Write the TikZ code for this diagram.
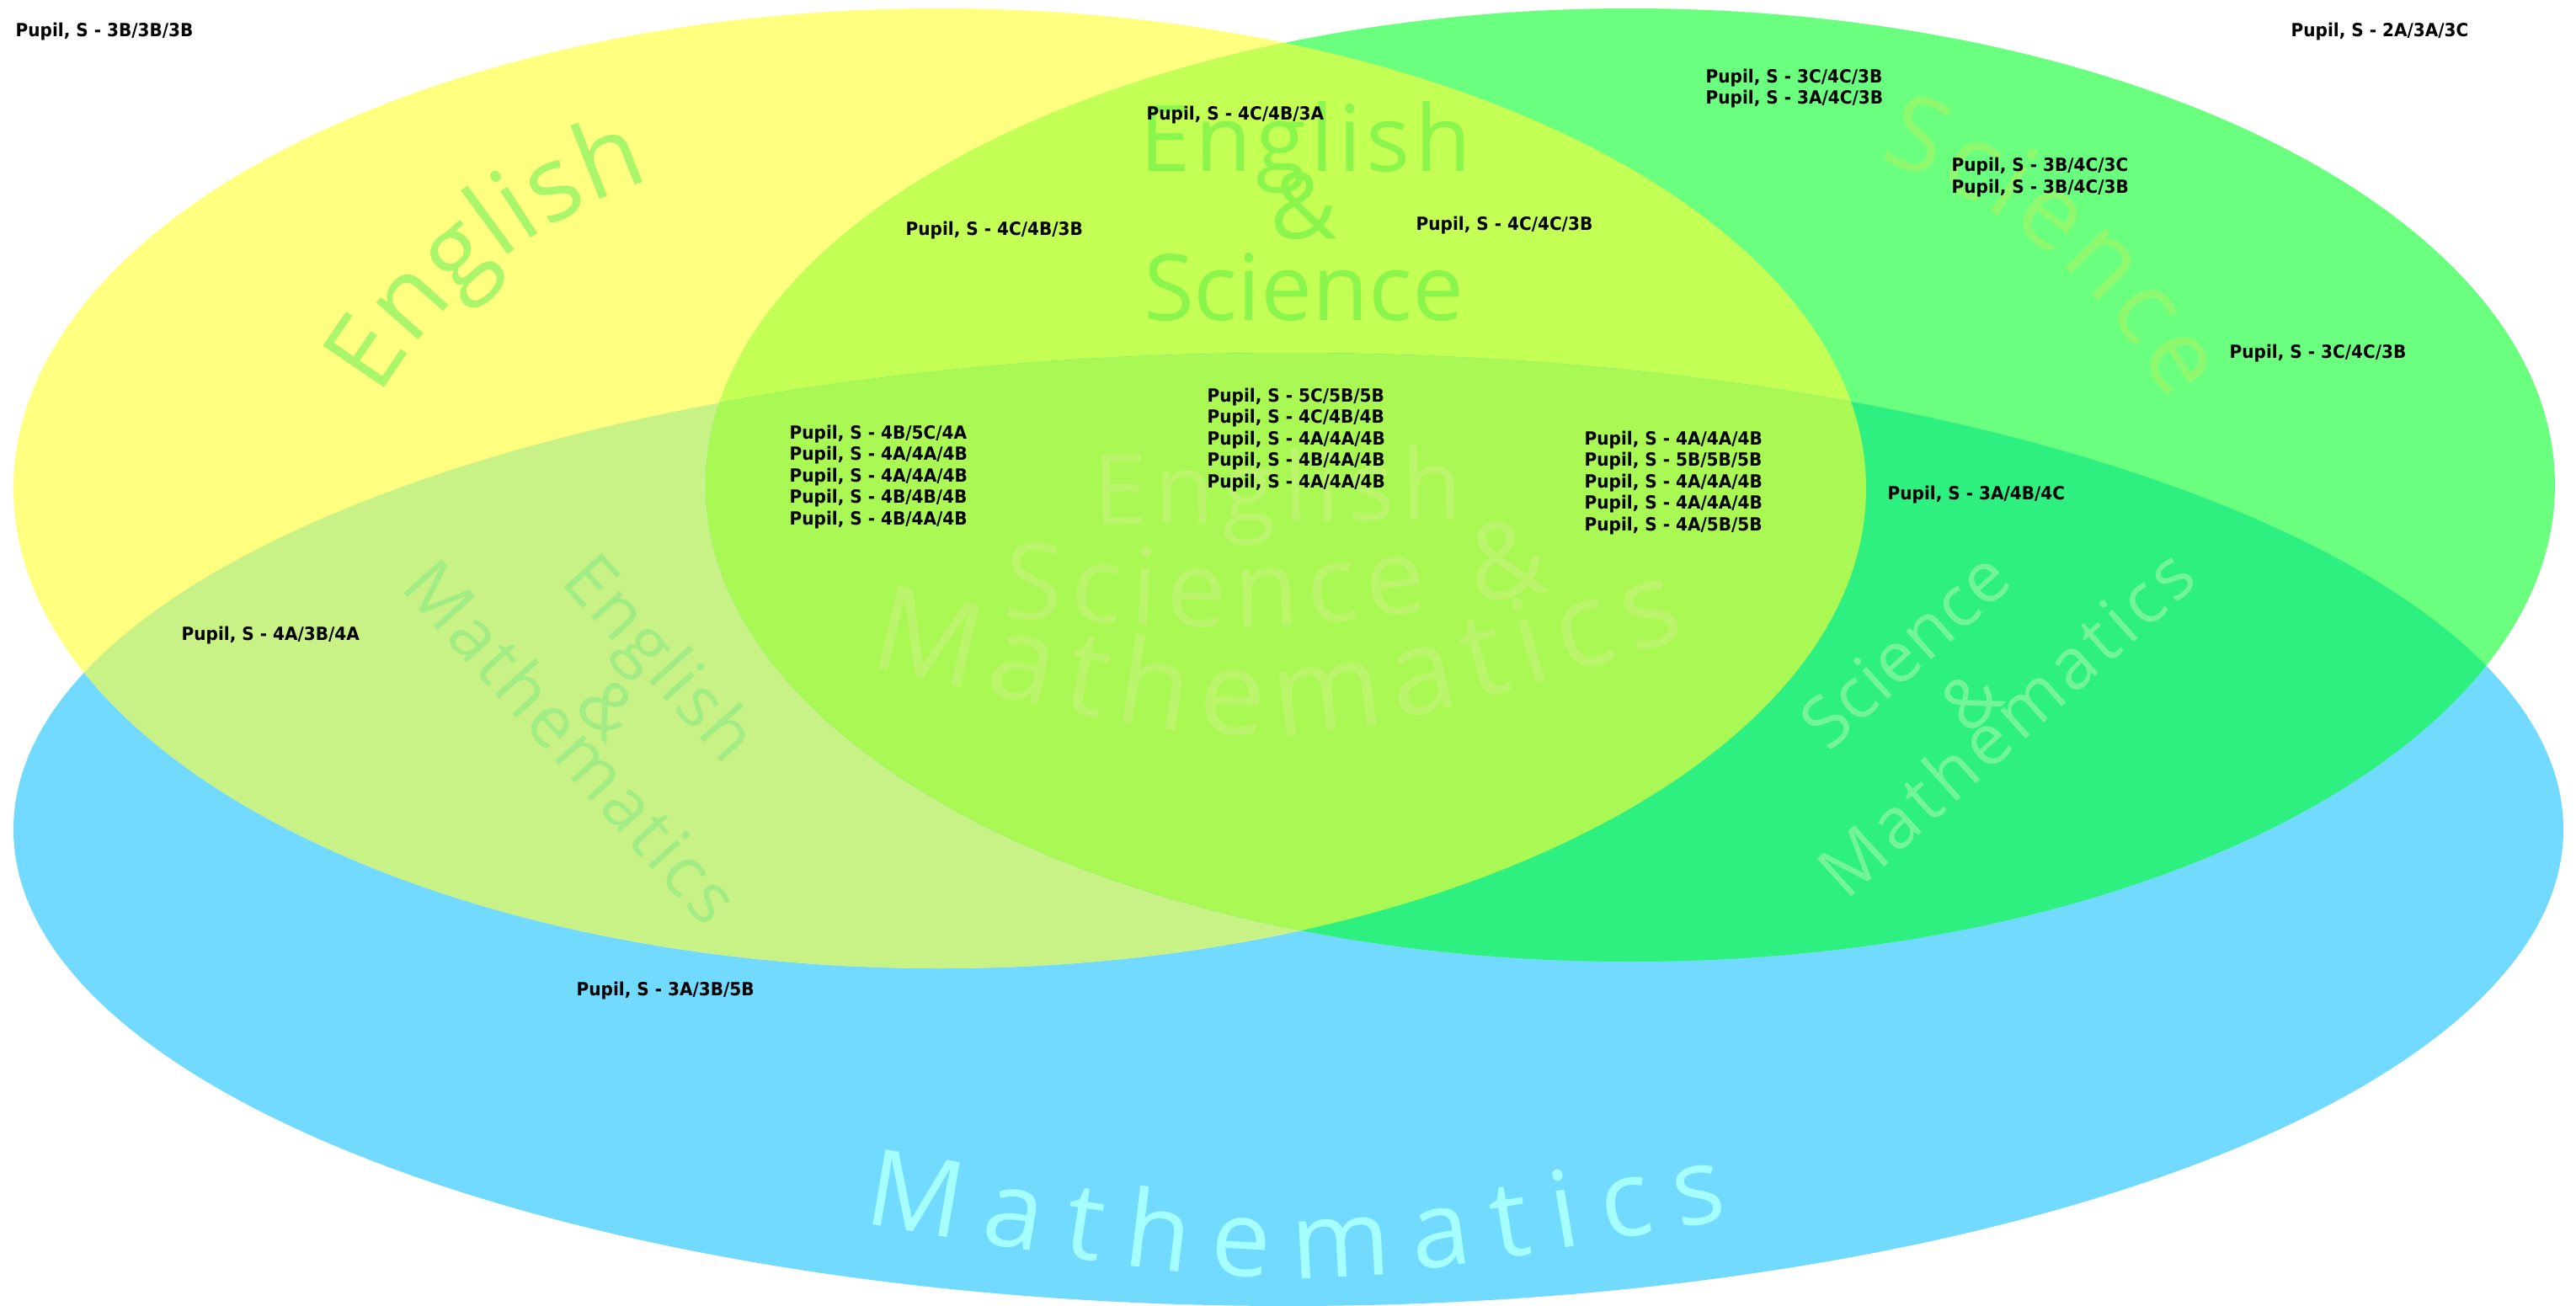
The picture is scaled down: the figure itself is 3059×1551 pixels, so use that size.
\documentclass[tikz,border=0pt]{standalone}
\usepackage{fontspec}
\usetikzlibrary{decorations.text}
\newfontfamily\pupilfont{DejaVu Sans}[FakeStretch=0.93]
\newfontfamily\markfont{Open Sans}
\definecolor{engyellow}{HTML}{FFFF80}
\definecolor{scigreen}{HTML}{6BFF80}
\definecolor{mathblue}{HTML}{73DAFF}
\definecolor{engsci}{HTML}{C4FF55}
\definecolor{engmath}{HTML}{C8F286}
\definecolor{scimath}{HTML}{2EF080}
\definecolor{allthree}{HTML}{A9F854}
\definecolor{engtext}{HTML}{AAF66A}
\definecolor{scitext}{HTML}{8EF86E}
\definecolor{estext}{HTML}{8AF64C}
\definecolor{alltext}{HTML}{BAF56B}
\definecolor{emtext}{HTML}{A2EC84}
\definecolor{smtext}{HTML}{74F49A}
\definecolor{mathtext}{HTML}{A6FFFF}
\newcommand{\wfont}[1]{\markfont\fontsize{#1}{#1}\selectfont}
\tikzset{
  pupil/.style={anchor=base west, inner sep=0pt, font=\pupilfont\bfseries\fontsize{6.13}{7.3}\selectfont},
  wtext/.style={decorate, decoration={text along path, text align={fit to path}, text color=#1}},
  wamp/.style={inner sep=0pt, anchor=base, text=#1}
}
\begin{document}
\begin{tikzpicture}[x=0.01cm, y=-0.01cm]
        \useasboundingbox (0,0) rectangle (3059,1551);
        \fill[white] (0,0) rectangle (3059,1551);
        % the three sets
        \coordinate (E) at (1116,580);
        \coordinate (S) at (1936,576);
        \coordinate (M) at (1530,985);
        \fill[mathblue] (M) ellipse [x radius=1514, y radius=566];
        \fill[engyellow] (E) ellipse [x radius=1100, y radius=570];
        \fill[scigreen] (S) ellipse [x radius=1098, y radius=566];
        % overlaps
        \begin{scope}
          \clip (E) ellipse [x radius=1100, y radius=570];
          \fill[engsci] (S) ellipse [x radius=1098, y radius=566];
          \fill[engmath] (M) ellipse [x radius=1514, y radius=566];
        \end{scope}
        \begin{scope}
          \clip (S) ellipse [x radius=1098, y radius=566];
          \fill[scimath] (M) ellipse [x radius=1514, y radius=566];
        \end{scope}
        \begin{scope}
          \clip (E) ellipse [x radius=1100, y radius=570];
          \clip (S) ellipse [x radius=1098, y radius=566];
          \fill[allthree] (M) ellipse [x radius=1514, y radius=566];
        \end{scope}
        % region names
        \path[wtext=engtext, decoration={text={|\wfont{35}|English}}]
          (956,775) ++(211:590) arc [start angle=211, end angle=252, radius=590];
        \path[wtext=scitext, decoration={text={|\wfont{35}|Science}}]
          (2046,760) ++(288:600) arc [start angle=288, end angle=332, radius=600];
        \path[wtext=estext, decoration={text={|\wfont{31}|English}}] (1353,203) -- (1747,203);
        \node[wamp=estext, font=\wfont{31}] (esamp) at (1548,283) {\&};
        \path[wtext=estext, decoration={text={|\wfont{31}|Science}}] (1358,380) -- (1737,380);
        \path[wtext=alltext, decoration={text={|\wfont{33}|English}}] (1298,623) -- (1737,617);
        \path[wtext=alltext, decoration={text={|\wfont{36}|Science {\&}}}]
          (1190,733) .. controls (1516,752) .. (1842,703);
        \path[wtext=alltext, decoration={text={|\wfont{40}|Mathematics}}]
          (1030,790) .. controls (1515,906) .. (2003,757);
        \path[wtext=emtext, decoration={text={|\wfont{24}|English}}] (664,691) -- (862,911);
        \node[wamp=emtext, font=\wfont{24}, rotate=-48] (emamp) at (700,862) {\&};
        \path[wtext=emtext, decoration={text={|\wfont{24}|Mathematics}}] (474,698) -- (838,1103);
        \path[wtext=smtext, decoration={text={|\wfont{24}|Science}}] (2171,894) -- (2393,694);
        \node[wamp=smtext, font=\wfont{24}, rotate=42] (smamp) at (2360,854) {\&};
        \path[wtext=smtext, decoration={text={|\wfont{24}|Mathematics}}] (2192,1070) -- (2612,692);
        \path[wtext=mathtext, decoration={text={|\wfont{36}|Mathematics}}]
          (1024,1452) .. controls (1538,1540) .. (2053,1448);
        % pupils
        \node[pupil] (p1) at (18,43) {Pupil, S - 3B/3B/3B};
        \node[pupil] (p2) at (2720,43) {Pupil, S - 2A/3A/3C};
        \node[pupil] (p3) at (1361,142) {Pupil, S - 4C/4B/3A};
        \node[pupil] (p4) at (2025,98) {Pupil, S - 3C/4C/3B};
        \node[pupil] (p5) at (2025,123) {Pupil, S - 3A/4C/3B};
        \node[pupil] (p6) at (2317,203) {Pupil, S - 3B/4C/3C};
        \node[pupil] (p7) at (2317,229) {Pupil, S - 3B/4C/3B};
        \node[pupil] (p8) at (1075,279) {Pupil, S - 4C/4B/3B};
        \node[pupil] (p9) at (1681,273) {Pupil, S - 4C/4C/3B};
        \node[pupil] (p10) at (2647,425) {Pupil, S - 3C/4C/3B};
        \node[pupil] (p11) at (2241,593) {Pupil, S - 3A/4B/4C};
        \node[pupil] (p12) at (215,760) {Pupil, S - 4A/3B/4A};
        \node[pupil] (p13) at (684,1182) {Pupil, S - 3A/3B/5B};
        \foreach \g [count=\k from 0] in {{4B/5C/4A},{4A/4A/4B},{4A/4A/4B},{4B/4B/4B},{4B/4A/4B}}
          \node[pupil] (em\k) at (937,{521+25.5*\k}) {Pupil, S - \g};
        \foreach \g [count=\k from 0] in {{5C/5B/5B},{4C/4B/4B},{4A/4A/4B},{4B/4A/4B},{4A/4A/4B}}
          \node[pupil] (all\k) at (1433,{477+25.5*\k}) {Pupil, S - \g};
        \foreach \g [count=\k from 0] in {{4A/4A/4B},{5B/5B/5B},{4A/4A/4B},{4A/4A/4B},{4A/5B/5B}}
          \node[pupil] (sm\k) at (1881,{528+25.5*\k}) {Pupil, S - \g};
\end{tikzpicture}
\end{document}
